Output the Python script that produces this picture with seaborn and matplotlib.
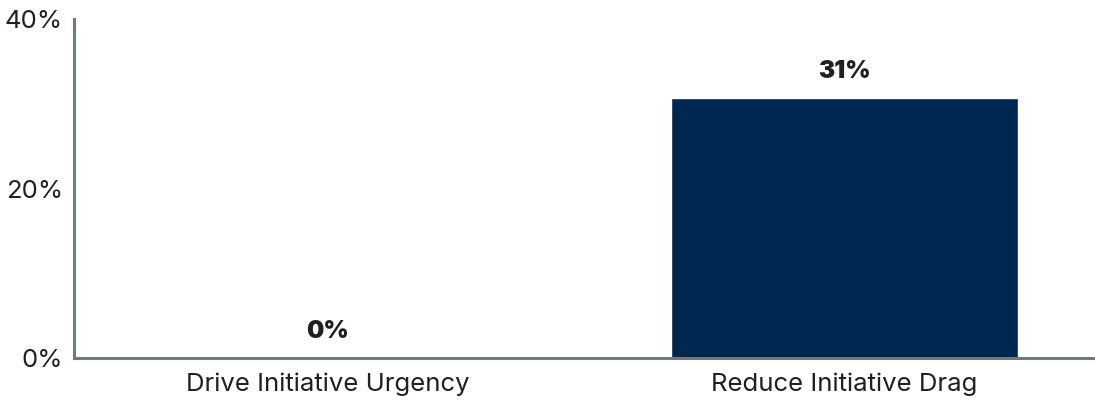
import seaborn as sns
import pandas as pd
import matplotlib.pyplot as plt

categories = ["Drive Initiative Urgency", "Reduce Initiative Drag"]
values = [0, 30.7]
labels = ["0%", "31%"]

df = pd.DataFrame({"category": categories, "value": values})

sns.set_style("white")
plt.rcParams["font.family"] = ["Inter", "DejaVu Sans"]

fig = plt.figure(figsize=(10.95, 4.07), dpi=100)
ax = fig.add_axes([0.0676, 0.1204, 0.9304, 0.8326])

sns.barplot(data=df, x="category", y="value", color="#00274F", width=0.672,
            saturation=1, ax=ax)

ax.set_xlim(-0.49, 1.48)
ax.set_ylim(0, 40)
ax.set_yticks([0, 20, 40])
ax.set_yticklabels(["0%", "20%", "40%"])
ax.set_xlabel("")
ax.set_ylabel("")
ax.tick_params(axis="both", length=0, labelsize=18.5, colors="#231F20")
ax.tick_params(axis="x", pad=10.5)
ax.tick_params(axis="y", pad=8)

for side in ["top", "right"]:
    ax.spines[side].set_visible(False)
for side in ["left", "bottom"]:
    ax.spines[side].set_color("#6F7B7B")
    ax.spines[side].set_linewidth(2.2)

for i, (v, lab) in enumerate(zip(values, labels)):
    ax.annotate(lab, (i, v), xytext=(0, 11), textcoords="offset points",
                ha="center", va="bottom", fontsize=17.5, fontweight="black",
                color="#231F20")

plt.savefig("out.png", dpi=100)
